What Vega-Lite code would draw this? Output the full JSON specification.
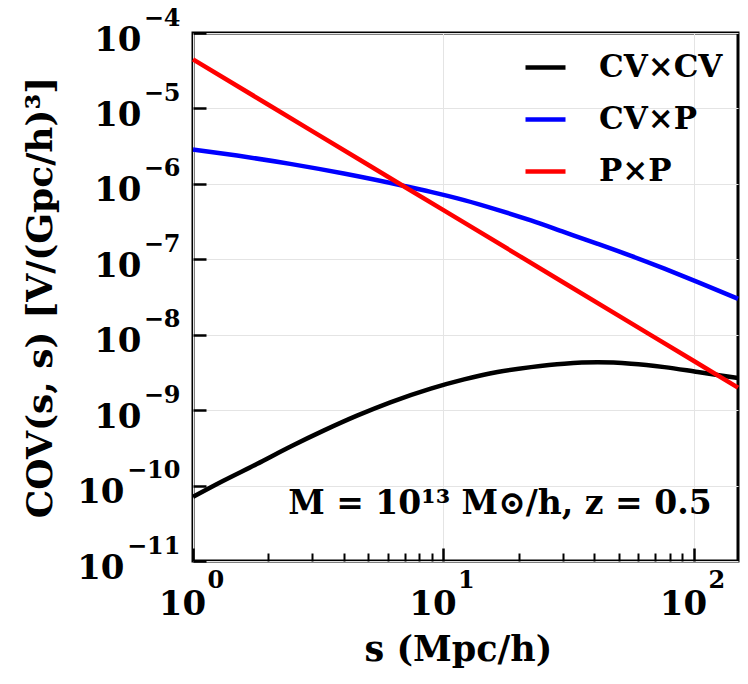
{
  "$schema": "https://vega.github.io/schema/vega-lite/v6.json",
  "width": 545,
  "height": 528,
  "autosize": {"type": "none"},
  "padding": {"left": 193, "top": 33, "right": 10, "bottom": 123},
  "background": "white",
  "config": {
    "view": {"stroke": "black", "strokeWidth": 3},
    "font": "DejaVu Serif"
  },
  "datasets": {
    "curves": [
      {"s": 1, "cov": 7.10e-11, "series": "CV×CV"},
      {"s": 1.322, "cov": 1.16e-10, "series": "CV×CV"},
      {"s": 1.798, "cov": 1.93e-10, "series": "CV×CV"},
      {"s": 2.443, "cov": 3.27e-10, "series": "CV×CV"},
      {"s": 3.321, "cov": 5.35e-10, "series": "CV×CV"},
      {"s": 4.517, "cov": 8.45e-10, "series": "CV×CV"},
      {"s": 6.138, "cov": 1.27e-9, "series": "CV×CV"},
      {"s": 8.9, "cov": 1.93e-9, "series": "CV×CV"},
      {"s": 12.09, "cov": 2.56e-9, "series": "CV×CV"},
      {"s": 16.44, "cov": 3.20e-9, "series": "CV×CV"},
      {"s": 22.35, "cov": 3.72e-9, "series": "CV×CV"},
      {"s": 30.37, "cov": 4.13e-9, "series": "CV×CV"},
      {"s": 41.3, "cov": 4.30e-9, "series": "CV×CV"},
      {"s": 56.13, "cov": 4.13e-9, "series": "CV×CV"},
      {"s": 76.27, "cov": 3.72e-9, "series": "CV×CV"},
      {"s": 103.7, "cov": 3.20e-9, "series": "CV×CV"},
      {"s": 150, "cov": 2.67e-9, "series": "CV×CV"},
      {"s": 1, "cov": 2.85e-6, "series": "CV×P"},
      {"s": 1.5, "cov": 2.37e-6, "series": "CV×P"},
      {"s": 2.443, "cov": 1.84e-6, "series": "CV×P"},
      {"s": 4, "cov": 1.37e-6, "series": "CV×P"},
      {"s": 7.05, "cov": 9.3e-7, "series": "CV×P"},
      {"s": 8.9, "cov": 7.83e-7, "series": "CV×P"},
      {"s": 12.09, "cov": 6.1e-7, "series": "CV×P"},
      {"s": 16.44, "cov": 4.53e-7, "series": "CV×P"},
      {"s": 22.35, "cov": 3.27e-7, "series": "CV×P"},
      {"s": 30.37, "cov": 2.29e-7, "series": "CV×P"},
      {"s": 41.3, "cov": 1.60e-7, "series": "CV×P"},
      {"s": 56.13, "cov": 1.107e-7, "series": "CV×P"},
      {"s": 76.27, "cov": 7.5e-8, "series": "CV×P"},
      {"s": 103.7, "cov": 4.98e-8, "series": "CV×P"},
      {"s": 150, "cov": 2.99e-8, "series": "CV×P"},
      {"s": 1, "cov": 4.48e-5, "series": "P×P"},
      {"s": 2, "cov": 1.12e-5, "series": "P×P"},
      {"s": 5, "cov": 1.79e-6, "series": "P×P"},
      {"s": 10, "cov": 4.48e-7, "series": "P×P"},
      {"s": 20, "cov": 1.12e-7, "series": "P×P"},
      {"s": 50, "cov": 1.79e-8, "series": "P×P"},
      {"s": 100, "cov": 4.48e-9, "series": "P×P"},
      {"s": 150, "cov": 1.99e-9, "series": "P×P"}
    ]
  },
  "data": {"name": "curves"},
  "layer": [
    {
      "mark": {"type": "line", "strokeWidth": 4.5, "interpolate": "monotone"},
      "encoding": {
        "x": {
          "field": "s", "type": "quantitative",
          "scale": {"type": "log", "domain": [1, 150], "nice": false},
          "axis": {
            "orient": "bottom", "values": [1, 10, 100],
            "labelExpr": "'10'",
            "labelFontSize": 34, "labelFontWeight": "bold", "labelColor": "black",
            "labelAlign": "center", "labelBaseline": "alphabetic", "labelPadding": 53, "labelOffset": -11,
            "labelFlush": false, "labelOverlap": false,
            "ticks": false, "domain": false,
            "grid": true, "gridColor": "#e4e4e4", "gridWidth": 1,
            "title": "s (Mpc/h)", "titleFontSize": 35, "titleFontWeight": "bold", "titleColor": "black",
            "titleX": 265, "titleY": 99, "titleAlign": "center", "titleBaseline": "alphabetic"
          }
        },
        "y": {
          "field": "cov", "type": "quantitative",
          "scale": {"type": "log", "domain": [1e-11, 1e-4], "nice": false},
          "axis": {
            "orient": "left", "values": [1e-11, 1e-10, 1e-9, 1e-8, 1e-7, 1e-6, 1e-5, 1e-4],
            "labelExpr": "'10'",
            "labelFontSize": 34, "labelFontWeight": "bold", "labelColor": "black",
            "labelAlign": "right", "labelBaseline": "alphabetic", "labelOffset": 17,
            "labelPadding": {"condition": {"test": "datum.value < 5e-10", "value": 69}, "value": 52},
            "labelFlush": false, "labelOverlap": false,
            "ticks": false, "domain": false,
            "grid": true, "gridColor": "#e4e4e4", "gridWidth": 1,
            "title": "COV(s, s) [V/(Gpc/h)³]", "titleFontSize": 36, "titleFontWeight": "bold", "titleColor": "black",
            "titleX": -153, "titleY": 264, "titleAngle": -90, "titleAlign": "center", "titleBaseline": "middle"
          }
        },
        "color": {
          "field": "series", "type": "nominal",
          "scale": {"domain": ["CV×CV", "CV×P", "P×P"], "range": ["#000000", "#0000ff", "#ff0000"]},
          "legend": {
            "orient": "none", "legendX": 330, "legendY": 12, "title": null, "padding": 0,
            "symbolType": "stroke", "symbolSize": 1600, "symbolStrokeWidth": 4.5,
            "labelFontSize": 31, "labelFontWeight": "bold", "labelColor": "black",
            "labelOffset": 31, "rowPadding": 14, "labelLimit": 300
          }
        }
      }
    },
    {
      "mark": {"type": "point", "opacity": 0},
      "encoding": {
        "x": {
          "field": "s", "type": "quantitative",
          "axis": {
            "orient": "bottom", "values": [1, 10, 100],
            "labelExpr": "format(round(log(datum.value)/LN10), 'd')",
            "labelFontSize": 24, "labelFontWeight": "bold", "labelColor": "black",
            "labelAlign": "left", "labelBaseline": "alphabetic", "labelPadding": 26, "labelOffset": 14,
            "labelFlush": false, "labelOverlap": false,
            "ticks": false, "domain": false, "grid": false, "title": null
          }
        },
        "y": {
          "field": "cov", "type": "quantitative",
          "axis": {
            "orient": "left", "values": [1e-11, 1e-10, 1e-9, 1e-8, 1e-7, 1e-6, 1e-5, 1e-4],
            "labelExpr": "'−' + format(-round(log(datum.value)/LN10), 'd')",
            "labelFontSize": 24, "labelFontWeight": "bold", "labelColor": "black",
            "labelAlign": "right", "labelBaseline": "alphabetic", "labelOffset": -8, "labelPadding": 13,
            "labelFlush": false, "labelOverlap": false,
            "ticks": false, "domain": false, "grid": false, "title": null
          }
        }
      }
    },
    {
      "mark": {"type": "point", "opacity": 0},
      "encoding": {
        "x": {
          "field": "s", "type": "quantitative",
          "axis": {
            "orient": "bottom", "values": [1, 10, 100], "labels": false,
            "ticks": true, "tickSize": -13, "tickWidth": 2.5, "tickColor": "black",
            "domain": false, "grid": false, "title": null
          }
        },
        "y": {
          "field": "cov", "type": "quantitative",
          "axis": {
            "orient": "left", "values": [1e-11, 1e-10, 1e-9, 1e-8, 1e-7, 1e-6, 1e-5, 1e-4], "labels": false,
            "ticks": true, "tickSize": -13, "tickWidth": 2.5, "tickColor": "black",
            "domain": false, "grid": false, "title": null
          }
        }
      }
    },
    {
      "mark": {"type": "point", "opacity": 0},
      "encoding": {
        "x": {
          "field": "s", "type": "quantitative",
          "axis": {
            "orient": "bottom", "values": [2, 3, 4, 5, 6, 7, 8, 9, 20, 30, 40, 50, 60, 70, 80, 90], "labels": false,
            "ticks": true, "tickSize": -8, "tickWidth": 2, "tickColor": "black",
            "domain": false, "grid": false, "title": null
          }
        },
        "y": {"field": "cov", "type": "quantitative", "axis": null}
      }
    },
    {
      "data": {"values": [{}]},
      "mark": {"type": "text", "fontWeight": "bold", "fontSize": 33, "align": "center", "baseline": "alphabetic", "color": "black"},
      "encoding": {
        "x": {"datum": 16.8, "type": "quantitative", "axis": null},
        "y": {"datum": 4.2e-11, "type": "quantitative", "axis": null},
        "text": {"value": "M = 10¹³ M⊙/h, z = 0.5"}
      }
    }
  ],
  "resolve": {"axis": {"x": "independent", "y": "independent"}}
}
